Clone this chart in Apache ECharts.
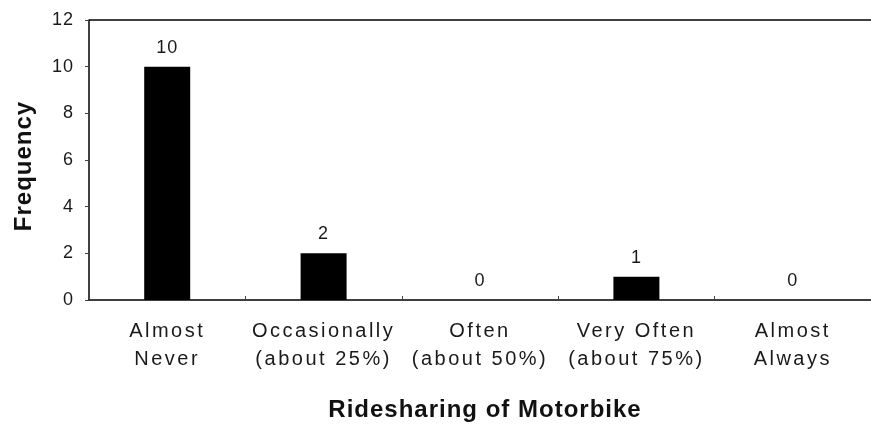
<!DOCTYPE html>
<html>
<head>
<meta charset="utf-8">
<script src="https://cdn.jsdelivr.net/npm/echarts@6/dist/echarts.min.js"></script>
<style>
  html, body { margin: 0; padding: 0; background: #fff; }
  #chart { width: 871px; height: 427px; }
</style>
</head>
<body>
<div id="chart"></div>
<script>
// Ridesharing frequency survey
const categories = [
  'Almost\nNever',
  'Occasionally\n(about 25%)',
  'Often\n(about 50%)',
  'Very Often\n(about 75%)',
  'Almost\nAlways'
];
const frequency = [10, 2, 0, 1, 0];
const yTicks = [0, 2, 4, 6, 8, 10, 12];

const textColor = '#1a1a1a';
const fontFamily = 'Liberation Sans, Arial, sans-serif';

// Tracked lettering: numbers and bold titles get a little spacing,
// regular category text more.
(function () {
  const proto = CanvasRenderingContext2D.prototype;
  const origFill = proto.fillText;
  proto.fillText = function (text, x, y, maxWidth) {
    if ('letterSpacing' in this) {
      const s = String(text);
      let spacing = '2.5px';
      if (/^\d+$/.test(s)) spacing = '1px';
      else if (/bold/.test(this.font)) spacing = '1px';
      this.letterSpacing = spacing;
    }
    const r = maxWidth === undefined
      ? origFill.call(this, text, x, y)
      : origFill.call(this, text, x, y, maxWidth);
    if ('letterSpacing' in this) this.letterSpacing = '0px';
    return r;
  };
})();

const chart = echarts.init(document.getElementById('chart'));
chart.setOption({
  animation: false,
  backgroundColor: '#fff',
  grid: { left: 89, top: 20, width: 797, height: 280, containLabel: false },
  xAxis: {
    type: 'category',
    data: categories,
    axisLine: { show: true, lineStyle: { color: '#000', width: 1.5 } },
    axisTick: { show: true, inside: true, length: 4, alignWithLabel: false, lineStyle: { color: '#444' } },
    axisLabel: {
      color: textColor, fontSize: 20, fontFamily: fontFamily,
      lineHeight: 28, margin: 17, interval: 0
    },
    splitLine: { show: false }
  },
  yAxis: {
    type: 'value',
    min: yTicks[0],
    max: yTicks[yTicks.length - 1],
    interval: 2,
    axisLine: { show: true, lineStyle: { color: '#000', width: 1.5 } },
    axisTick: { show: true, inside: false, length: 4, lineStyle: { color: '#444' } },
    axisLabel: { color: textColor, fontSize: 18, fontFamily: fontFamily, margin: 15, padding: [4, 0, 0, 0] },
    splitLine: { show: false }
  },
  graphic: [
    // top frame line
    { type: 'line', shape: { x1: 89, y1: 20, x2: 871, y2: 20 },
      style: { stroke: '#000', lineWidth: 1.5 } },
    { type: 'text', x: 24, y: 166, rotation: Math.PI / 2,
      style: { text: 'Frequency', fill: '#111', font: 'bold 24px ' + fontFamily,
               textAlign: 'center', textVerticalAlign: 'middle' } },
    { type: 'text', x: 485, y: 410,
      style: { text: 'Ridesharing of Motorbike', fill: '#111', font: 'bold 24px ' + fontFamily,
               textAlign: 'center', textVerticalAlign: 'middle' } }
  ],
  series: [{
    type: 'bar',
    data: frequency,
    barWidth: 46,
    itemStyle: { color: '#000' },
    label: {
      show: true, position: 'top', distance: 10,
      color: textColor, fontSize: 18, fontFamily: fontFamily
    }
  }]
});
</script>
</body>
</html>
